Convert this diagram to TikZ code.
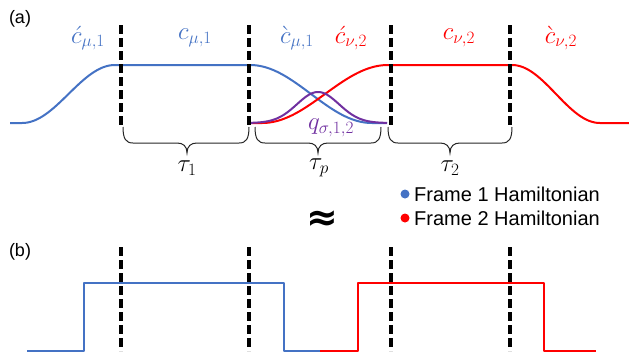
\documentclass[tikz,border=0pt]{standalone}
\usepackage{fontspec}
\setmainfont{Liberation Sans}
\newfontfamily\dejavu{DejaVu Sans}
\definecolor{fblue}{RGB}{68,114,196}
\definecolor{fred}{RGB}{255,0,0}
\definecolor{fpurple}{RGB}{112,48,160}
\tikzset{
  curve/.style={line width=2pt, line join=round},
  vdash/.style={line width=3.5pt, dash pattern=on 9pt off 4pt, black},
  bracestyle/.style={line width=1pt, black!85},
  lab/.style={inner sep=0pt, font=\fontsize{24}{26}\selectfont},
  panel/.style={inner sep=0pt, font=\fontsize{18}{20}\selectfont},
  legend/.style={inner sep=0pt, anchor=west, font=\fontsize{20}{22}\selectfont},
  bigapprox/.style={inner sep=0pt, font=\dejavu\bfseries\fontsize{38}{40}\selectfont},
}
\begin{document}
\begin{tikzpicture}[x=1pt,y=-1pt]
\useasboundingbox (0,0) rectangle (629,354);
% panel labels
\node[panel] (pa) at (20,19) {(a)};
\node[panel] (pb) at (20,252) {(b)};
% top curves
\draw[curve, fblue] (10,123) -- (22,123)
  -- plot[domain=22:115, samples=60] (\x, {123-29*(1-cos((\x-22)/93*180))})
  -- (250,65)
  -- plot[domain=250:372, samples=70] (\x, {65+29*(1-cos((\x-250)/122*180))})
  -- (387,123);
\draw[curve, fred] (249,123) -- (262,123)
  -- plot[domain=262:388, samples=70] (\x, {123-29*(1-cos((\x-262)/126*180))})
  -- (512,65)
  -- plot[domain=512:600, samples=60] (\x, {65+29*(1-cos((\x-512)/88*180))})
  -- (629,123);
\draw[curve, fpurple] plot[domain=249:387, samples=90] (\x, {123-31*exp(-((\x-318)/21)^2/2)});
% top labels
\node[lab, text=fblue] (l1) at (88,38) {$\acute{c}_{\mu,1}$};
\node[lab, text=fblue] (l2) at (195,38) {$c_{\mu,1}$};
\node[lab, text=fblue] (l3) at (297,38) {$\grave{c}_{\mu,1}$};
\node[lab, text=fred] (l4) at (351,38) {$\acute{c}_{\nu,2}$};
\node[lab, text=fred] (l5) at (459,38) {$c_{\nu,2}$};
\node[lab, text=fred] (l6) at (561,38) {$\grave{c}_{\nu,2}$};
\node[lab, text=fpurple] (q) at (331,128) {$q_{\sigma,1,2}$};
% braces
\foreach \xa/\xt/\xb in {123/187/249, 255/318/381, 388/450/512}
  \draw[bracestyle] (\xa,127) .. controls (\xa,139) and ({\xa+3},143) .. ({\xa+10},143)
    -- ({\xt-10},143) .. controls ({\xt-4},143) and (\xt,146) .. (\xt,153)
    .. controls (\xt,146) and ({\xt+4},143) .. ({\xt+10},143)
    -- ({\xb-10},143) .. controls ({\xb-3},143) and (\xb,139) .. (\xb,127);
\node[lab] (t1) at (187,168) {$\tau_1$};
\node[lab] (tp) at (319,168) {$\tau_p$};
\node[lab] (t2) at (450,168) {$\tau_2$};
% legend
\fill[fblue] (405,194) circle (4.5);
\node[legend] (f1) at (414,194) {Frame 1 Hamiltonian};
\fill[fred] (405,218) circle (4.5);
\node[legend] (f2) at (414,218) {Frame 2 Hamiltonian};
% approx
\node[bigapprox] (ap) at (322,221) {≈};
% bottom curves
\draw[curve, fblue] (27,351) -- (84,351) -- (84,283) -- (284,283) -- (284,351) -- (322,351);
\draw[curve, fred] (320,351) -- (358,351) -- (358,283) -- (544,283) -- (544,351) -- (596,351);
% dashed lines
\foreach \xx in {121,249,391,510} {
  \draw[vdash] (\xx,25) -- (\xx,128);
  \draw[vdash] (\xx,247) -- (\xx,351);
}
\end{tikzpicture}
\end{document}
